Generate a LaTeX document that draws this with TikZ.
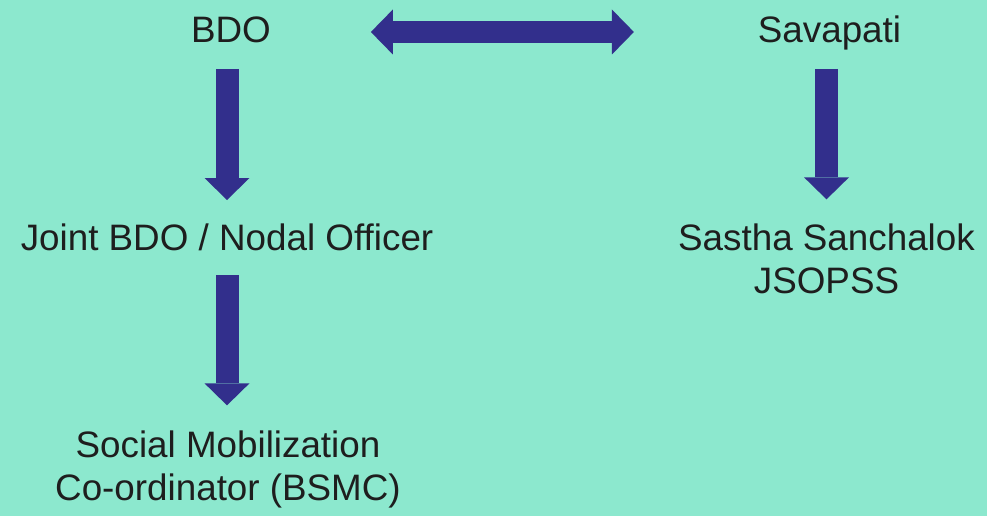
\documentclass[tikz,border=0pt]{standalone}
\usepackage{fontspec}
\setmainfont{Liberation Sans}
\usetikzlibrary{arrows.meta}
\definecolor{bgmint}{RGB}{140,232,206}
\definecolor{arrblue}{RGB}{50,47,140}
\definecolor{txtdark}{RGB}{30,30,30}
\tikzset{
  lbl/.style={anchor=base, inner sep=0pt, outer sep=0pt, text=txtdark,
    font=\fontsize{36.8}{43}\selectfont, align=center},
  bigtip/.tip={Triangle[width=45pt,length=22pt,line width=0pt,fill=arrblue,sep=-1pt]},
  bigarrow/.style={draw=arrblue, line width=23pt, line cap=butt, -bigtip},
  dblarrow/.style={draw=arrblue, line width=22pt, line cap=butt, bigtip-bigtip}
}
\begin{document}
\begin{tikzpicture}[x=1pt,y=-1pt]
  \fill[bgmint] (0,0) rectangle (987,516);
  \useasboundingbox (0,0) rectangle (987,516);
  \node[lbl] (bdo) at (231,43) {BDO};
  \node[lbl] (sav) at (829.5,43) {Savapati};
  \node[lbl] (joint) at (227,250) {Joint BDO / Nodal Officer};
  \node[lbl] (sastha) at (826.5,293) {Sastha Sanchalok\\JSOPSS};
  \node[lbl] (social) at (228,500) {Social Mobilization\\Co-ordinator (BSMC)};
  \draw[dblarrow] ([xshift=101pt,yshift=11pt]bdo.base east) -- ([xshift=-125pt,yshift=11pt]sav.base west);
  \draw[bigarrow] ([yshift=-26pt]bdo.base -| joint.base) -- ([yshift=51pt]joint.base);
  \draw[bigarrow] ([yshift=-25pt]joint.base) -- ([yshift=26pt]joint.base |- social.north);
  \draw[bigarrow] ([yshift=-26pt]sav.base -| sastha.base) -- ([yshift=25pt]sastha.north);
\end{tikzpicture}
\end{document}
